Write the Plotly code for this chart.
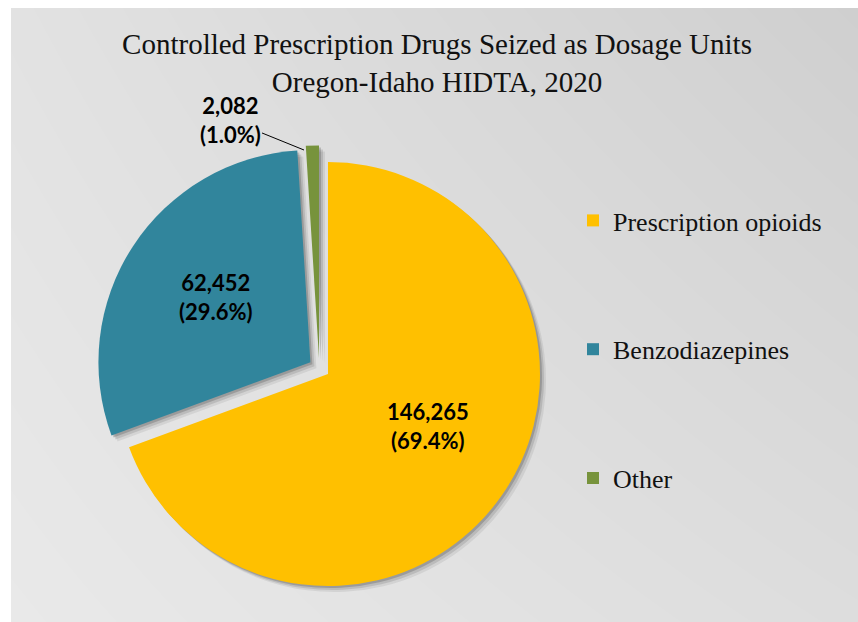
import plotly.graph_objects as go

# ---- data -------------------------------------------------------------
categories = ["Prescription opioids", "Benzodiazepines", "Other"]
dosage_units = [146265, 62452, 2082]
slice_colors = ["#FFC000", "#31859C", "#77933C"]
title_lines = ["Controlled Prescription Drugs Seized as Dosage Units",
               "Oregon-Idaho HIDTA, 2020"]

# background gray levels at the panel corners: [bottom row], [top row]
bg_levels = [[233, 221], [226, 207]]

# ---- layout helpers ---------------------------------------------------
W, H = 858, 622
explode = 0.05
pie_dom_x = [96.7 / W, 541.9 / W]
pie_dom_y = [(H - 590.6) / H, (H - 145.4) / H]

total = sum(dosage_units)
shares = [v / total for v in dosage_units]
label_texts = [f"{v:,}<br>({s:.1%})" for v, s in zip(dosage_units, shares)]

# where each slice label sits (pixel centres), and leader-line tips
label_pos = [(428, 426), (216, 297), (230, 120)]
leader_tip = [None, None, (304, 150)]

label_font = dict(family="Lato", size=22, color="black", weight="bold")


def shifted(dom_x, dom_y, dx, dy):
    return dict(x=[dom_x[0] + dx / W, dom_x[1] + dx / W],
                y=[dom_y[0] - dy / H, dom_y[1] - dy / H])


fig = go.Figure()

# gradient panel behind everything
fig.add_trace(go.Heatmap(
    x=[0, 1], y=[0, 1], z=bg_levels, zsmooth="best",
    zmin=200, zmax=240,
    colorscale=[[0, "rgb(200,200,200)"], [1, "rgb(240,240,240)"]],
    showscale=False, hoverinfo="skip",
))

# soft drop shadow built from a few offset translucent copies of the pie
for off, alpha in [(6, 0.07), (4, 0.11), (2, 0.17)]:
    fig.add_trace(go.Pie(
        labels=categories, values=dosage_units, sort=False,
        direction="clockwise", rotation=0,
        pull=[explode] * len(dosage_units),
        marker=dict(colors=[f"rgba(0,0,0,{alpha})"] * len(dosage_units),
                    line=dict(width=0)),
        textinfo="none", hoverinfo="skip", showlegend=False,
        domain=shifted(pie_dom_x, pie_dom_y, off, off),
    ))

# main pie
fig.add_trace(go.Pie(
    labels=categories, values=dosage_units, sort=False,
    direction="clockwise", rotation=0,
    pull=[explode] * len(dosage_units),
    marker=dict(colors=slice_colors, line=dict(width=0)),
    textinfo="none",
    showlegend=False,
    domain=dict(x=pie_dom_x, y=pie_dom_y),
))

# legend entries
for name, col in zip(categories, slice_colors):
    fig.add_trace(go.Scatter(
        x=[None], y=[None], mode="markers", name=name, legendgroup=name,
        marker=dict(symbol="square", size=12, color=col, line=dict(width=0)),
    ))

# slice value labels
for txt, (px, py), tip in zip(label_texts, label_pos, leader_tip):
    if tip is None:
        fig.add_annotation(
            x=px / W, y=1 - py / H, xref="paper", yref="paper",
            xanchor="center", yanchor="middle",
            text=txt, showarrow=False, font=label_font,
        )
    else:
        fig.add_annotation(
            x=tip[0] / W, y=1 - tip[1] / H, xref="paper", yref="paper",
            text=txt, showarrow=True, arrowhead=0, arrowwidth=1,
            arrowcolor="black", ax=px - tip[0], ay=py - tip[1], standoff=0,
            font=label_font,
        )

fig.update_layout(
    width=W, height=H,
    margin=dict(l=0, r=0, t=0, b=0),
    paper_bgcolor="white",
    plot_bgcolor="rgba(0,0,0,0)",
    xaxis=dict(visible=False, range=[0, 1], domain=[11 / W, 1], fixedrange=True),
    yaxis=dict(visible=False, range=[0, 1], domain=[0, 1 - 8 / H], fixedrange=True),
    title=dict(
        text="<br>".join(title_lines),
        x=437 / W, xanchor="center",
        y=1 - 54 / H, yanchor="middle",
        font=dict(family="Liberation Serif", size=29, color="#111111"),
    ),
    legend=dict(
        x=573 / W, xanchor="left",
        y=1 - 197 / H, yanchor="top",
        bgcolor="rgba(0,0,0,0)",
        font=dict(family="Liberation Serif", size=26, color="#111111"),
        tracegroupgap=92,
    ),
    showlegend=True,
)

fig.write_html("out.html")
